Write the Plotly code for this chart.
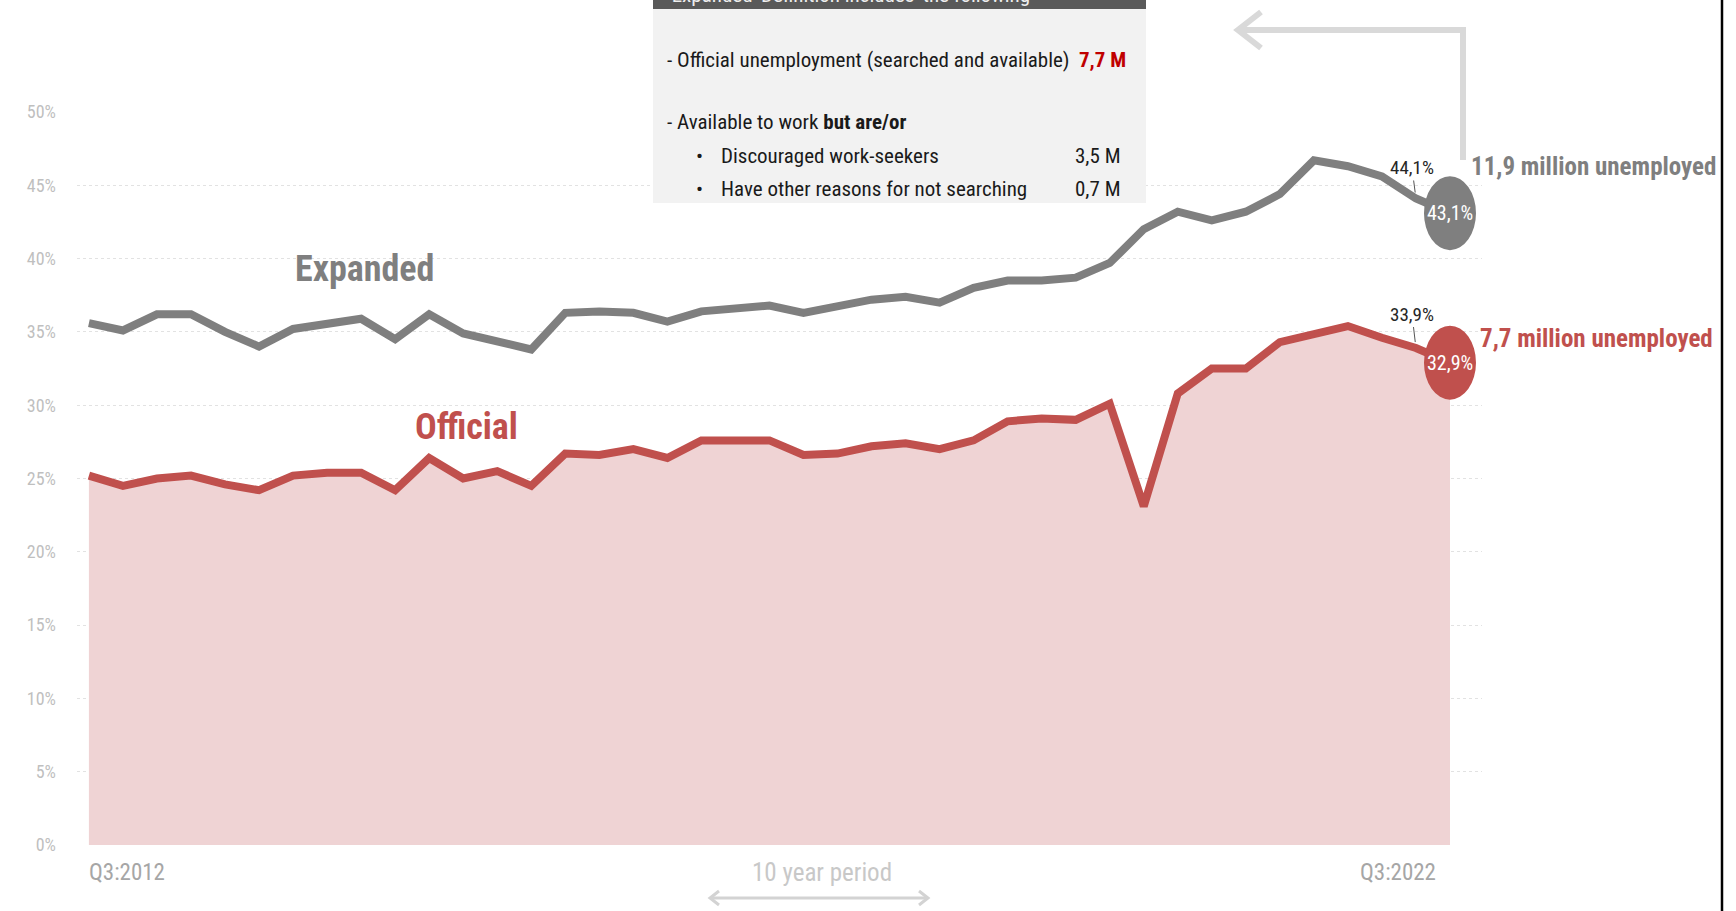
import plotly.graph_objects as go

# ---- data ----
quarters = []
for yr in range(2012, 2023):
    for q in (1, 2, 3, 4):
        if (yr == 2012 and q < 3) or (yr == 2022 and q > 3):
            continue
        quarters.append(f"Q{q}:{yr}")

expanded = [35.6, 35.1, 36.2, 36.2, 35.0, 34.0, 35.2, 35.6, 35.9, 34.5,
            36.2, 34.9, 34.4, 33.8, 36.3, 36.4, 36.3, 35.7, 36.4, 36.6,
            36.8, 36.3, 36.7, 37.2, 37.4, 37.0, 38.0, 38.5, 38.5, 38.7,
            39.7, 42.0, 43.2, 42.6, 43.2, 44.4, 46.7, 46.3, 45.6, 44.1, 43.1]
official = [25.2, 24.5, 25.0, 25.2, 24.6, 24.2, 25.2, 25.4, 25.4, 24.2,
            26.4, 25.0, 25.5, 24.5, 26.7, 26.6, 27.0, 26.4, 27.6, 27.6,
            27.6, 26.6, 26.7, 27.2, 27.4, 27.0, 27.6, 28.9, 29.1, 29.0,
            30.1, 23.1, 30.8, 32.5, 32.5, 34.3, 34.8, 35.4, 34.6, 33.9, 32.9]
ytick_vals = [0, 5, 10, 15, 20, 25, 30, 35, 40, 45, 50]

box_lines = ["- Official unemployment (searched and available)",
             "- Available to work <b>but are/or</b>",
             "Discouraged work-seekers",
             "Have other reasons for not searching"]
box_values = ["7,7 M", "3,5 M", "0,7 M"]

GRAY = "#7f7f7f"
RED = "#c0504d"
FILL = "#efd3d4"
NARROW = "Liberation Sans Narrow, Roboto Condensed, DejaVu Sans Condensed, Arial Narrow, sans-serif"

W, H = 1736, 911
PL, PR, PT, PB = 77, 1482, 112, 845


def xp(px):
    return (px - PL) / (PR - PL)


def yp(py):
    return (PB - py) / (PB - PT)


def pct(v):
    return f"{v:.1f}".replace(".", ",") + "%"


idx = list(range(len(quarters)))

fig = go.Figure()
fig.add_trace(go.Scatter(x=idx, y=official, mode="lines",
                         line=dict(color=RED, width=8),
                         fill="tozeroy", fillcolor=FILL, hoverinfo="skip"))
fig.add_trace(go.Scatter(x=idx, y=expanded, mode="lines",
                         line=dict(color=GRAY, width=8), hoverinfo="skip"))

shapes = []
# end-point ellipses anchored to data
for series, col in ((expanded, GRAY), (official, RED)):
    shapes.append(dict(type="circle", xref="x", yref="y",
                       xsizemode="pixel", ysizemode="pixel",
                       xanchor=idx[-1], yanchor=series[-1],
                       x0=-26, x1=26, y0=-37, y1=37,
                       fillcolor=col, line=dict(width=0), layer="above"))

# info box
shapes.append(dict(type="rect", xref="paper", yref="paper",
                   x0=xp(653), x1=xp(1146), y0=yp(203), y1=yp(9),
                   fillcolor="#f2f2f2", line=dict(width=0), layer="above"))
shapes.append(dict(type="rect", xref="paper", yref="paper",
                   x0=xp(653), x1=xp(1146), y0=yp(9), y1=yp(-2),
                   fillcolor="#595959", line=dict(width=0), layer="above"))

# top-right bracket arrow
shapes.append(dict(type="path", xref="paper", yref="paper",
                   path=f"M {xp(1463)} {yp(160)} L {xp(1463)} {yp(30)} L {xp(1238)} {yp(30)}",
                   line=dict(color="#d9d9d9", width=6), layer="above"))
shapes.append(dict(type="path", xref="paper", yref="paper",
                   path=f"M {xp(1261)} {yp(12)} L {xp(1238)} {yp(30)} L {xp(1261)} {yp(48)}",
                   line=dict(color="#d9d9d9", width=6), layer="above"))

# bottom double arrow
shapes.append(dict(type="path", xref="paper", yref="paper",
                   path=f"M {xp(710)} {yp(898)} L {xp(928)} {yp(898)}",
                   line=dict(color="#d3d3d3", width=3)))
shapes.append(dict(type="path", xref="paper", yref="paper",
                   path=f"M {xp(719)} {yp(891)} L {xp(710)} {yp(898)} L {xp(719)} {yp(905)}",
                   line=dict(color="#d3d3d3", width=3)))
shapes.append(dict(type="path", xref="paper", yref="paper",
                   path=f"M {xp(919)} {yp(891)} L {xp(928)} {yp(898)} L {xp(919)} {yp(905)}",
                   line=dict(color="#d3d3d3", width=3)))

# right border line
shapes.append(dict(type="line", xref="paper", yref="paper",
                   x0=xp(1722), x1=xp(1722), y0=yp(911), y1=yp(0),
                   line=dict(color="#000000", width=2.5), layer="above"))


def note(x, y, text, font, xanchor="center", yanchor="middle", xref="paper", **kw):
    d = dict(x=x, y=y, xref=xref, yref="paper", text=text, showarrow=False,
             xanchor=xanchor, yanchor=yanchor, font=font)
    d.update(kw)
    return d


ann = []
# end values inside ellipses
for series in (expanded, official):
    ann.append(dict(x=idx[-1], y=series[-1], xref="x", yref="y",
                    xanchor="center", yanchor="middle",
                    text=pct(series[-1]), showarrow=False,
                    font=dict(family=NARROW, size=20, color="white")))
# previous-quarter labels with leader lines
for series, ay in ((expanded, -31), (official, -34)):
    ann.append(dict(x=idx[-2], y=series[-2], xref="x", yref="y",
                    text=pct(series[-2]), showarrow=True, arrowhead=0,
                    arrowwidth=1, arrowcolor="#555555", standoff=6,
                    ax=-4, ay=ay,
                    font=dict(family=NARROW, size=19, color="#262626")))

# series labels
ann.append(note(xp(364), yp(269), "<b>Expanded</b>",
                dict(family=NARROW, size=36, color=GRAY)))
ann.append(note(xp(466), yp(427), "<b>Official</b>",
                dict(family=NARROW, size=36, color=RED)))
ann.append(note(xp(1469), yp(166), "<b>11,9 million unemployed</b>",
                dict(family=NARROW, size=25, color=GRAY), xanchor="left"))
ann.append(note(xp(1478), yp(338), "<b>7,7 million unemployed</b>",
                dict(family=NARROW, size=25, color=RED), xanchor="left"))

# x labels
XLF = dict(family=NARROW, size=23, color="#a6a6a6")
ann.append(note(idx[0], yp(872), quarters[0], XLF, xanchor="left", xref="x", xshift=-2))
ann.append(note(idx[-1], yp(872), quarters[-1], XLF, xanchor="right", xref="x", xshift=-12))
ann.append(note(xp(822), yp(873), "10 year period",
                dict(family=NARROW, size=25, color="#c8c8c8")))

# box header (cut off at top of page)
ann.append(note(xp(666), yp(8.5), "'Expanded' Definition includes' the following",
                dict(family=NARROW, size=21, color="#eeeeee"),
                xanchor="left", yanchor="bottom"))
# box contents
BOXF = dict(family=NARROW, size=21, color="#1a1a1a")
ann.append(note(xp(665), yp(60), box_lines[0], BOXF, xanchor="left"))
ann.append(note(xp(665), yp(122), box_lines[1], BOXF, xanchor="left"))
for i, yy in ((2, 156), (3, 189)):
    ann.append(note(xp(694), yp(yy), "•", BOXF, xanchor="left"))
    ann.append(note(xp(719), yp(yy), box_lines[i], BOXF, xanchor="left"))
ann.append(note(xp(1128), yp(60), f"<b>{box_values[0]}</b>",
                dict(family=NARROW, size=21, color="#c00000"), xanchor="right"))
for v, yy in ((box_values[1], 156), (box_values[2], 189)):
    ann.append(note(xp(1123), yp(yy), v, BOXF, xanchor="right"))

fig.update_layout(
    width=W, height=H,
    margin=dict(l=PL, r=W - PR, t=PT, b=H - PB, pad=0),
    paper_bgcolor="white", plot_bgcolor="white",
    showlegend=False,
    xaxis=dict(range=[-0.35, (PR - PL) / (1467 - 77) * 40.85 - 0.35],
               showticklabels=False, showgrid=False,
               zeroline=False, showline=False, fixedrange=True),
    yaxis=dict(range=[0, 50], tickvals=ytick_vals,
               ticktext=[f"{v}%" for v in ytick_vals],
               showgrid=True, gridcolor="#e2e2e2", gridwidth=1.2, griddash="dot",
               zeroline=False, showline=False, ticks="",
               ticklabelstandoff=20,
               tickfont=dict(family=NARROW, size=18, color="#bfbfbf"),
               fixedrange=True),
    shapes=shapes,
    annotations=ann,
)

fig.write_html("out.html", config={"displayModeBar": False})
